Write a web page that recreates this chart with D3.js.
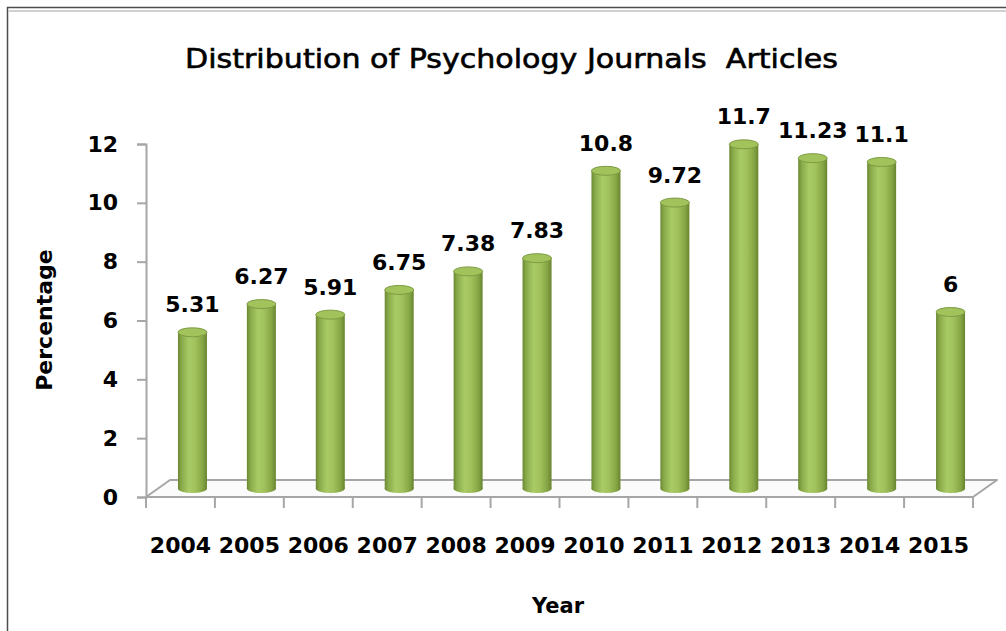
<!DOCTYPE html>
<html>
<head>
<meta charset="utf-8">
<script src="https://cdn.jsdelivr.net/npm/d3@7"></script>
<style>
  html, body { margin: 0; padding: 0; background: #fff; }
  svg { display: block; }
  text { font-family: "DejaVu Sans", sans-serif; fill: #000; }
</style>
</head>
<body>
<svg id="chart" width="1006" height="631"></svg>
<script>
const years = ["2004","2005","2006","2007","2008","2009","2010","2011","2012","2013","2014","2015"];
const values = [5.31, 6.27, 5.91, 6.75, 7.38, 7.83, 10.8, 9.72, 11.7, 11.23, 11.1, 6];
const valueLabels = ["5.31","6.27","5.91","6.75","7.38","7.83","10.8","9.72","11.7","11.23","11.1","6"];
const yTicks = [0, 2, 4, 6, 8, 10, 12];
const titleText = "Distribution of Psychology Journals  Articles";
const yTitle = "Percentage";
const xTitle = "Year";

const svg = d3.select("#chart");
const W = 1006, H = 631;

// depth of the pseudo-3D floor
const depthX = 24, depthY = 17;

const x = d3.scaleBand().domain(years).range([146, 973]).padding(0);
const y = d3.scaleLinear().domain([0, 12]).range([497, 144]);

// frame
svg.append("rect").attr("x", 7.5).attr("y", 7.5).attr("width", W + 10).attr("height", H + 10)
  .attr("fill", "none").attr("stroke", "#4d4d4d").attr("stroke-width", 1.5);
svg.append("line").attr("x1", 8).attr("x2", W).attr("y1", 11).attr("y2", 11)
  .attr("stroke", "#d0d0d0").attr("stroke-width", 2);

// title
svg.append("text").attr("x", 185).attr("y", 68)
  .attr("textLength", 653).attr("lengthAdjust", "spacingAndGlyphs")
  .style("font-size", "27px").style("white-space", "pre")
  .attr("stroke", "#000").attr("stroke-width", 0.6)
  .text(titleText);

// defs: cylinder gradient
const defs = svg.append("defs");
const g = defs.append("linearGradient").attr("id", "cyl").attr("x1", "0%").attr("x2", "100%").attr("y1", "0%").attr("y2", "0%");
[["0%", "#6b8833"], ["12%", "#88a948"], ["38%", "#a9cb66"], ["60%", "#a0c15c"], ["85%", "#86a645"], ["100%", "#68842f"]]
  .forEach(([o, c]) => g.append("stop").attr("offset", o).attr("stop-color", c));

// floor
const x0 = x.range()[0], x1 = x.range()[1], y0 = y(0);
const floorColor = "#a6a6a6";
svg.append("path")
  .attr("d", `M${x0},${y0} L${x1},${y0} L${x1 + depthX},${y0 - depthY} L${x0 + depthX},${y0 - depthY} Z`)
  .attr("fill", "#fbfbfb").attr("stroke", floorColor).attr("stroke-width", 2).attr("stroke-linejoin", "round");

// y axis
const yAxis = svg.append("g").attr("transform", `translate(${x0},0)`)
  .call(d3.axisLeft(y).tickValues(yTicks).tickSize(9).tickPadding(19).tickFormat(d3.format("d")));
yAxis.select(".domain").attr("stroke", floorColor).attr("stroke-width", 2);
yAxis.selectAll(".tick line").attr("stroke", floorColor).attr("stroke-width", 2);
yAxis.selectAll(".tick text").style("font-family", "DejaVu Sans, sans-serif")
  .style("font-size", "22px").style("font-weight", "bold").attr("fill", "#000");

// x axis: boundary ticks and centred labels
const bounds = years.map(d => x(d)).concat([x1]);
svg.append("g").selectAll("line").data(bounds).join("line")
  .attr("x1", d => d).attr("x2", d => d).attr("y1", y0).attr("y2", y0 + 11)
  .attr("stroke", floorColor).attr("stroke-width", 2);
svg.append("g").selectAll("text").data(years).join("text")
  .attr("x", d => x(d) + x.bandwidth() / 2).attr("y", 553)
  .attr("text-anchor", "middle")
  .style("font-size", "22px").style("font-weight", "bold")
  .text(d => d);

// bars as cylinders
const bw = 29, ry = 4.5;
const cx = d => x(d) + x.bandwidth() / 2 + depthX / 2;
const data = years.map((yr, i) => ({ yr, v: values[i], lab: valueLabels[i] }));
const bars = svg.append("g").selectAll("g").data(data).join("g");
bars.append("ellipse")
  .attr("cx", d => cx(d.yr)).attr("cy", y(0) - depthY / 2)
  .attr("rx", bw / 2).attr("ry", ry).attr("fill", "url(#cyl)");
bars.append("rect")
  .attr("x", d => cx(d.yr) - bw / 2).attr("width", bw)
  .attr("y", d => y(d.v) - depthY / 2)
  .attr("height", d => y(0) - y(d.v))
  .attr("fill", "url(#cyl)");
bars.append("ellipse")
  .attr("cx", d => cx(d.yr)).attr("cy", d => y(d.v) - depthY / 2)
  .attr("rx", bw / 2).attr("ry", ry)
  .attr("fill", "#a2c35c").attr("stroke", "#7d9b42").attr("stroke-width", 1);

// value labels
svg.append("g").selectAll("text").data(data).join("text")
  .attr("x", d => cx(d.yr)).attr("y", d => y(d.v) - depthY / 2 - 20)
  .attr("text-anchor", "middle")
  .style("font-size", "22px").style("font-weight", "bold")
  .text(d => d.lab);

// axis titles
svg.append("text").attr("transform", "translate(52,320) rotate(-90)")
  .attr("text-anchor", "middle")
  .style("font-size", "22px").style("font-weight", "bold")
  .text(yTitle);
svg.append("text").attr("x", 558).attr("y", 613)
  .attr("text-anchor", "middle")
  .style("font-size", "21px").style("font-weight", "bold")
  .text(xTitle);
</script>
</body>
</html>
